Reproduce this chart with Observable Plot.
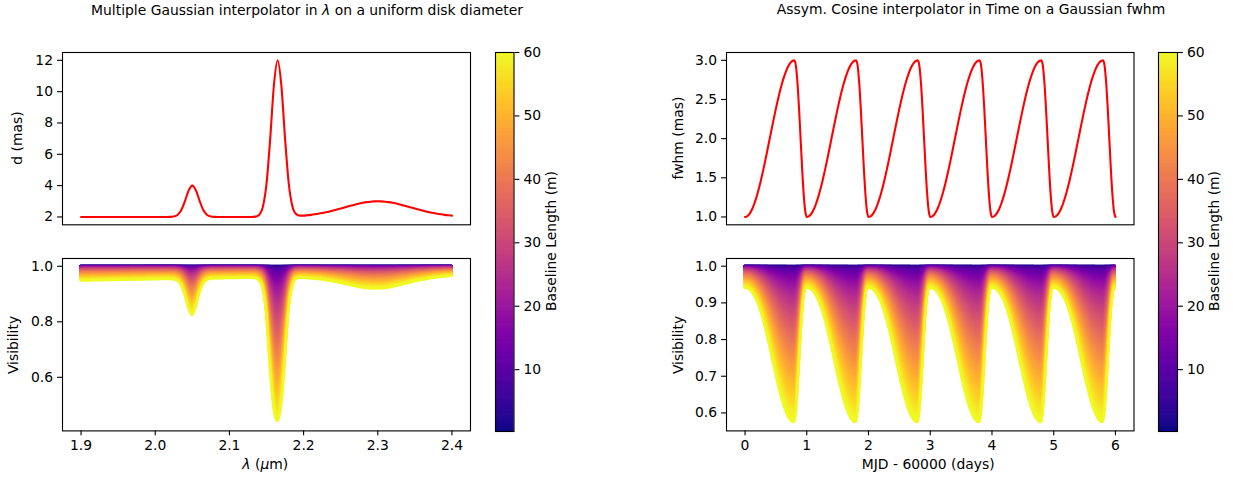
<!DOCTYPE html>
<html><head><meta charset="utf-8">
<script src="https://cdn.jsdelivr.net/npm/d3@7"></script>
<script src="https://cdn.jsdelivr.net/npm/@observablehq/plot@0.6"></script>
<style>
body{margin:0;background:#fff;}
#fig{position:relative;width:1233px;height:480px;overflow:hidden;font-family:"DejaVu Sans",sans-serif;color:#000;background:#fff;}
.txt{position:absolute;white-space:nowrap;font-size:13.9px;line-height:1;color:#000;}
</style></head><body><div id="fig"></div>
<script>
// ---------- data ----------
// Left: wavelength grid (µm)
const wavelength = [1.900,1.905,1.910,1.915,1.920,1.925,1.930,1.935,1.940,1.945,
 1.950,1.955,1.960,1.965,1.970,1.975,1.980,1.985,1.990,1.995,
 2.000,2.005,2.010,2.015,2.020,2.025,2.030,2.035,2.040,2.045,
 2.050,2.055,2.060,2.065,2.070,2.075,2.080,2.085,2.090,2.095,
 2.100,2.105,2.110,2.115,2.120,2.125,2.130,2.135,2.140,2.145,
 2.150,2.155,2.160,2.165,2.170,2.175,2.180,2.185,2.190,2.195,
 2.200,2.205,2.210,2.215,2.220,2.225,2.230,2.235,2.240,2.245,
 2.250,2.255,2.260,2.265,2.270,2.275,2.280,2.285,2.290,2.295,
 2.300,2.305,2.310,2.315,2.320,2.325,2.330,2.335,2.340,2.345,
 2.350,2.355,2.360,2.365,2.370,2.375,2.380,2.385,2.390,2.395,
 2.400];
// uniform disk diameter d (mas)
const diameter = [2,2,2,2,2,2,2,2,2,2,
 2,2,2,2,2,2,2,2,2,2,
 2.000,2.000,2.000,2.000,2.004,2.026,2.126,2.422,3.001,3.682,
 4.000,3.682,3.001,2.422,2.126,2.026,2.004,2.000,2.000,2.000,
 2.000,2.000,2.000,2.000,2.000,2.000,2.002,2.020,2.132,2.628,
 4.108,7.005,10.41,12.01,10.42,7.026,4.137,2.666,2.182,2.086,
 2.087,2.108,2.135,2.168,2.206,2.249,2.298,2.352,2.411,2.474,
 2.540,2.607,2.674,2.739,2.801,2.857,2.906,2.946,2.976,2.994,
 3.000,2.994,2.976,2.946,2.906,2.857,2.801,2.739,2.674,2.607,
 2.540,2.474,2.411,2.352,2.298,2.249,2.206,2.168,2.135,2.108,
 2.085];
// visibility at the longest baseline (lower envelope of the fan)
const visLongLeft = [.946,.946,.946,.947,.947,.947,.947,.948,.948,.948,
 .948,.949,.949,.949,.950,.950,.950,.950,.951,.951,
 .951,.951,.952,.952,.952,.951,.946,.931,.896,.847,
 .822,.849,.898,.933,.948,.953,.954,.954,.954,.955,
 .955,.955,.955,.956,.956,.956,.956,.955,.947,.920,
 .825,.635,.485,.440,.485,.635,.825,.920,.951,.956,
 .956,.955,.954,.953,.952,.950,.948,.946,.943,.941,
 .938,.935,.932,.929,.926,.923,.921,.919,.918,.917,
 .918,.918,.919,.921,.924,.927,.930,.933,.936,.940,
 .943,.946,.949,.951,.954,.956,.958,.959,.961,.962,
 .963];

// Right: one cycle (phase in days), repeated on each day
const days = [0, 1, 2, 3, 4, 5];
const phase = [0,.025,.05,.075,.1,.125,.15,.175,.2,.225,.25,.275,.3,.325,.35,.375,.4,
 .425,.45,.475,.5,.525,.55,.575,.6,.625,.65,.675,.7,.725,.75,.775,.8,
 .825,.85,.875,.9,.925,.95,.975,1.0];
const fwhmCycle = [1.000,1.005,1.019,1.043,1.076,1.118,1.169,1.227,1.293,1.366,1.444,1.529,1.617,1.710,1.805,1.902,2.000,
 2.098,2.195,2.290,2.383,2.471,2.556,2.634,2.707,2.773,2.831,2.882,2.924,2.957,2.981,2.995,3.000,
 2.924,2.707,2.383,2.000,1.617,1.293,1.076,1.000];
const visLongCycle = [.940,.939,.938,.935,.931,.926,.919,.911,.902,.891,.879,.865,.851,.835,.817,.799,.781,
 .762,.742,.723,.704,.685,.668,.651,.635,.621,.609,.598,.589,.582,.577,.574,.573,
 .589,.635,.704,.781,.851,.902,.931,.940];

// Baselines (m), colour-coded
const baselines = [1,2,3,4,5,6,7,8,9,10,11,12,13,14,15,16,17,18,19,20,
 21,22,23,24,25,26,27,28,29,30,31,32,33,34,35,36,37,38,39,40,
 41,42,43,44,45,46,47,48,49,50,51,52,53,54,55,56,57,58,59,60];
const baselineRange = [0.25, 60];
const cbTicks = [10, 20, 30, 40, 50, 60];

// ---------- tables ----------
const leftRows = wavelength.map((w, i) => ({x: w, d: diameter[i], vmin: visLongLeft[i]}));
const rightRows = [];
days.forEach((d, k) => phase.forEach((p, i) => {
  if (i === phase.length - 1 && k !== days.length - 1) return;
  rightRows.push({x: d + p, d: fwhmCycle[i], vmin: visLongCycle[i]});
}));
const Bmax = baselines[baselines.length - 1];
// visibility at baseline B scales from the longest-baseline value (V ~ exp(-k B^2))
function bands(rows) {
  const out = [];
  baselines.forEach((B, j) => {
    const Bp = j === 0 ? 0 : baselines[j - 1];
    for (const r of rows) {
      out.push({x: r.x, B, y1: Math.pow(r.vmin, (Bp / Bmax) ** 2), y2: Math.pow(r.vmin, (B / Bmax) ** 2)});
    }
  });
  return out;
}

// ---------- layout ----------
const fig = document.getElementById("fig");
const FONT = '"DejaVu Sans", sans-serif';
const FS = 13.9;
const LW = 2.08, SW = 1.11;
const colorOpt = {type: "linear", scheme: "plasma", domain: baselineRange};
const TY = [51.7, 224], BY = [258.3, 430.7];
const LX = [61.5, 469.5], RX = [725.5, 1133];
const LCB = [495, 513.5], RCB = [1158.3, 1177.3];

function place(el, left, top) {
  el.style.position = "absolute";
  el.style.left = left + "px";
  el.style.top = top + "px";
  fig.appendChild(el);
}
function panel({fx, fy, xDomain, yDomain, xTicks, xFmt, yTicks, yFmt, marks}) {
  const mL = 50, mR = 20, mT = 10, mB = xTicks ? 32 : 10;
  const ax = [];
  ax.push(Plot.axisY({ticks: yTicks, tickFormat: yFmt, tickSize: 4.9, tickPadding: 4.6, strokeWidth: SW, label: null}));
  if (xTicks) ax.push(Plot.axisX({ticks: xTicks, tickFormat: xFmt, tickSize: 4.9, tickPadding: 4.6, strokeWidth: SW, label: null}));
  const chart = Plot.plot({
    width: (fx[1] - fx[0]) + mL + mR,
    height: (fy[1] - fy[0]) + mT + mB,
    marginLeft: mL, marginRight: mR, marginTop: mT, marginBottom: mB,
    style: {fontFamily: FONT, fontSize: FS + "px", color: "black", background: "transparent", overflow: "visible"},
    x: {domain: xDomain, axis: xTicks ? undefined : null},
    y: {domain: yDomain},
    color: colorOpt,
    marks: [...marks, Plot.frame({stroke: "black", strokeWidth: SW}), ...ax]
  });
  place(chart, fx[0] - mL, fy[0] - mT);
}
function colorbar(fx) {
  const mL = 5, mR = 40, mT = 10, mB = 10;
  const n = 400, step = (baselineRange[1] - baselineRange[0]) / n;
  const cells = d3.range(n).map(i => ({v: baselineRange[0] + (i + 0.5) * step, y1: baselineRange[0] + i * step}));
  const chart = Plot.plot({
    width: (fx[1] - fx[0]) + mL + mR,
    height: (BY[1] - TY[0]) + mT + mB,
    marginLeft: mL, marginRight: mR, marginTop: mT, marginBottom: mB,
    style: {fontFamily: FONT, fontSize: FS + "px", color: "black", background: "transparent", overflow: "visible"},
    x: {domain: [0, 1], axis: null},
    y: {domain: baselineRange},
    color: colorOpt,
    marks: [
      Plot.rect(cells, {x1: 0, x2: 1, y1: "y1", y2: d => Math.min(baselineRange[1], d.y1 + step * 1.8), fill: "v"}),
      Plot.frame({stroke: "black", strokeWidth: SW}),
      Plot.axisY({anchor: "right", ticks: cbTicks, tickSize: 4.9, tickPadding: 4.6, strokeWidth: SW, label: null, tickFormat: d3.format("d")})
    ]
  });
  place(chart, fx[0] - mL, TY[0] - mT);
}
function text(html, cx, cy, rot) {
  const d = document.createElement("div");
  d.className = "txt";
  d.innerHTML = html;
  d.style.left = cx + "px";
  d.style.top = cy + "px";
  d.style.transform = "translate(-50%,-50%)" + (rot ? " rotate(-90deg)" : "");
  fig.appendChild(d);
}

const f1 = d3.format(".1f");
// Left top
panel({fx: LX, fy: TY, xDomain: [1.875, 2.425], yDomain: [1.5, 12.5],
  yTicks: [2, 4, 6, 8, 10, 12], yFmt: d3.format("d"),
  marks: [Plot.line(leftRows, {x: "x", y: "d", stroke: "red", strokeWidth: LW, curve: "monotone-x"})]});
// Left bottom
panel({fx: LX, fy: BY, xDomain: [1.875, 2.425], yDomain: [0.407, 1.028],
  xTicks: [1.9, 2.0, 2.1, 2.2, 2.3, 2.4], xFmt: f1, yTicks: [0.6, 0.8, 1.0], yFmt: f1,
  marks: [Plot.areaY(bands(leftRows), {x: "x", y1: "y1", y2: "y2", z: "B", fill: "B", stroke: "B", strokeWidth: LW, curve: "monotone-x"})]});
// Right top
panel({fx: RX, fy: TY, xDomain: [-0.3, 6.3], yDomain: [0.9, 3.1],
  yTicks: [1.0, 1.5, 2.0, 2.5, 3.0], yFmt: f1,
  marks: [Plot.line(rightRows, {x: "x", y: "d", stroke: "red", strokeWidth: LW, curve: "monotone-x"})]});
// Right bottom
panel({fx: RX, fy: BY, xDomain: [-0.3, 6.3], yDomain: [0.551, 1.021],
  xTicks: [0, 1, 2, 3, 4, 5, 6], xFmt: d3.format("d"), yTicks: [0.6, 0.7, 0.8, 0.9, 1.0], yFmt: f1,
  marks: [Plot.areaY(bands(rightRows), {x: "x", y1: "y1", y2: "y2", z: "B", fill: "B", stroke: "B", strokeWidth: LW, curve: "monotone-x"})]});
colorbar(LCB);
colorbar(RCB);

// texts
text("Multiple Gaussian interpolator in <i>λ</i> on a uniform disk diameter", 307, 11);
text("Assym. Cosine interpolator in Time on a Gaussian fwhm", 971, 9.5);
text("d (mas)", 18.2, 137.8, true);
text("Visibility", 14.2, 345, true);
text("fwhm (mas)", 678.6, 138.3, true);
text("Visibility", 678.6, 345, true);
text("<i>λ</i> (<i>μ</i>m)", 265.3, 465);
text("MJD - 60000 (days)", 928.2, 465);
text("Baseline Length (m)", 551.7, 240.8, true);
text("Baseline Length (m)", 1215, 240.8, true);
</script></body></html>
